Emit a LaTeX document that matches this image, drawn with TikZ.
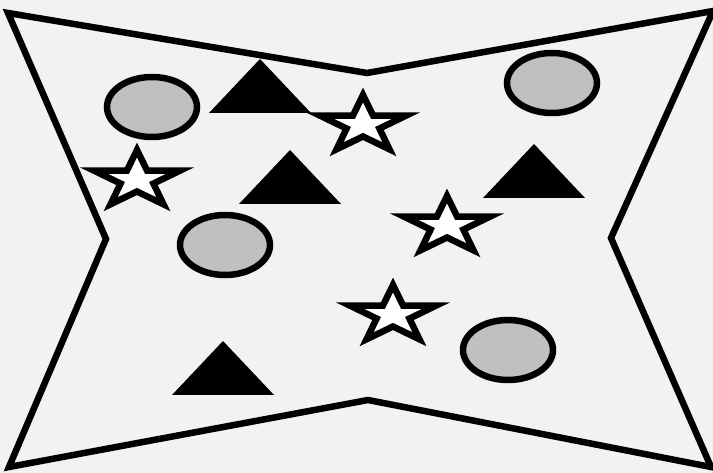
\documentclass[tikz,border=0pt]{standalone}
\usetikzlibrary{shapes.geometric}
\definecolor{ink}{RGB}{0,0,0}
\definecolor{paper}{RGB}{242,242,242}
\definecolor{stone}{RGB}{192,192,192}

\begin{document}
\begin{tikzpicture}[x=1pt,y=-1pt,frame/.style={draw=ink,line width=6.5pt,fill=paper},blob/.style={ellipse,draw=ink,line width=6.5pt,fill=stone,minimum width=90pt,minimum height=60pt,inner sep=0pt},wedge/.pic={\fill[ink] (-51,0) -- (0,-54) -- (51,0) -- cycle;},spark/.pic={\draw[ink,fill=white,line width=6.5pt,xscale=1.5] (270:30) \foreach \a in {0,...,4}{ -- (306+72*\a:11.5) -- (342+72*\a:30)} -- cycle;}]
\useasboundingbox (0,0) rectangle (713,473);
\fill[paper] (0,0) rectangle (713,473);
\draw[frame] (8,13) -- (367,73) -- (713,11) -- (611,238) -- (711,467) -- (368,400) -- (9,467) -- (106,239) -- cycle;
% grey blobs
\node[blob] (blobA) at (152,107) {};
\node[blob] (blobB) at (225,245) {};
\node[blob] (blobC) at (552,83) {};
\node[blob] (blobD) at (508,350) {};
% black wedges
\pic (wedgeA) at (260,113) {wedge};
\pic (wedgeB) at (290,204) {wedge};
\pic (wedgeC) at (534,198) {wedge};
\pic (wedgeD) at (223,395) {wedge};
% white stars
\pic (sparkA) at (363,125) {spark};
\pic (sparkB) at (137,180) {spark};
\pic (sparkC) at (447,226) {spark};
\pic (sparkD) at (393,315) {spark};
\end{tikzpicture}
\end{document}
